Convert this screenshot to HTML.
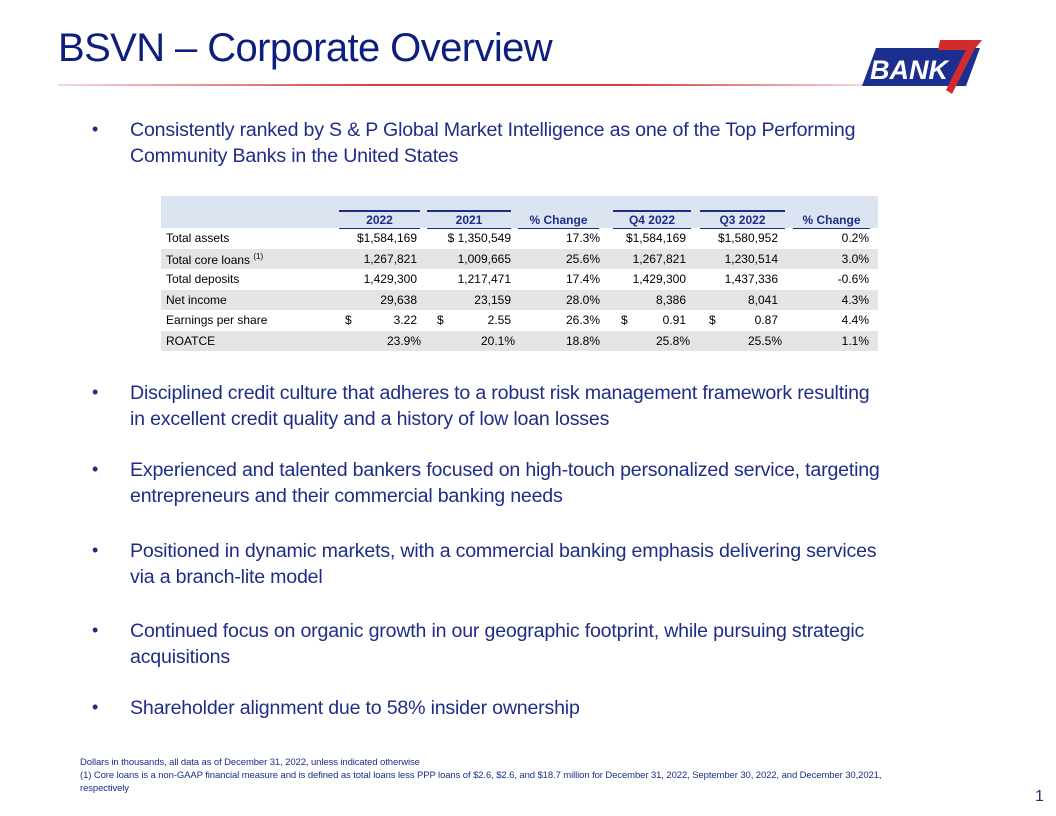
<!DOCTYPE html>
<html><head><meta charset="utf-8">
<style>
body{margin:0;width:1056px;height:816px;background:#fff;position:relative;overflow:hidden;font-family:"Liberation Sans",sans-serif;}
.abs{position:absolute;}
.title{left:58px;top:26px;font-size:40px;color:#0d1f7c;letter-spacing:-0.6px;white-space:nowrap;}
.rule{left:58px;top:84px;width:810px;height:2px;background:linear-gradient(90deg,rgba(220,60,60,0.2),#d04040 40%,#d04040 70%,rgba(220,60,60,0.2));}
.bul{left:92px;font-size:18px;color:#1f2d86;}
.bt{left:130px;font-size:19.6px;line-height:26px;color:#1f2d86;white-space:nowrap;letter-spacing:-0.2px;}
.hdr{left:161px;top:196px;width:717px;height:32px;background:#dce3f1;}
.row{left:161px;width:717px;height:20px;}
.gray{background:#e4e4e4;}
.cell{position:absolute;font-size:12px;color:#000;white-space:nowrap;}
.r{text-align:right;}
.hcell{position:absolute;top:210px;font-size:12px;font-weight:bold;color:#1f2d86;text-align:center;border-top:2px solid #1f2d86;height:16px;line-height:16px;border-bottom:1px solid #1f2d86}
.foot{left:80px;font-size:9.5px;color:#1f2d86;white-space:nowrap;letter-spacing:-0.1px;}
</style></head><body>
<div class="abs title">BSVN – Corporate Overview</div>
<div class="abs rule"></div>
<svg class="abs" style="left:862px;top:38px" width="124" height="58">
<polygon points="14,10 118,10 104,48 0,48" fill="#1c2f8f"/>
<polygon points="78,2 120,2 112,12 90,56 84,52 104,12 76,12" fill="#d22b2b"/>
<text x="8" y="41" font-family="Liberation Sans" font-weight="bold" font-style="italic" font-size="27" fill="#fff">BANK</text>
</svg>
<div class="abs bul" style="top:119px">•</div>
<div class="abs bt" style="top:117px">Consistently ranked by S &amp; P Global Market Intelligence as one of the Top Performing<br>Community Banks in the United States</div>

<div class="abs hdr"></div>
<div class="hcell" style="left:339px;width:81px">2022</div>
<div class="hcell" style="left:427px;width:84px">2021</div>
<div class="hcell" style="left:518px;width:81px;border-top-color:transparent">% Change</div>
<div class="hcell" style="left:613px;width:78px">Q4 2022</div>
<div class="hcell" style="left:700px;width:85px">Q3 2022</div>
<div class="hcell" style="left:793px;width:77px;border-top-color:transparent">% Change</div>

<div id="rows"></div>
<script>
const rows=[
["Total assets","$1,584,169","$ 1,350,549","17.3%","$1,584,169","$1,580,952","0.2%",false],
["Total core loans","1,267,821","1,009,665","25.6%","1,267,821","1,230,514","3.0%",true],
["Total deposits","1,429,300","1,217,471","17.4%","1,429,300","1,437,336","-0.6%",false],
["Net income","29,638","23,159","28.0%","8,386","8,041","4.3%",true],
["Earnings per share","3.22","2.55","26.3%","0.91","0.87","4.4%",false],
["ROATCE","23.9%","20.1%","18.8%","25.8%","25.5%","1.1%",true]];
const rights=[417,511,600,686,778,869];
const c=document.getElementById('rows');
rows.forEach((r,i)=>{
  const top=228+i*20.5;
  const bg=document.createElement('div');
  bg.className='abs row'+(r[7]?' gray':'');
  bg.style.top=top+'px';
  
  
  c.appendChild(bg);
  const lab=document.createElement('div');
  lab.className='cell';lab.style.left='166px';lab.style.top=(top+3)+'px';
  lab.innerHTML=r[0]+(i==1?' <sup style="font-size:8px">(1)</sup>':'');
  
  
  c.appendChild(lab);
  for(let j=1;j<=6;j++){
    const d=document.createElement('div');
    d.className='cell r';
    let rr=rights[j-1]; if(i==5&&j!=3&&j!=6) rr+=4;
    d.style.left=(rr-100)+'px';d.style.width='100px';d.style.top=(top+3)+'px';
    d.textContent=r[j];
    
    
    c.appendChild(d);
    if(i==4&&(j==1||j==2||j==4||j==5)){
      const s=document.createElement('div');
      s.className='cell';s.style.left=([345,437,0,621,709][j-1])+'px';s.style.top=(top+3)+'px';
      s.textContent='$';
      
      
      c.appendChild(s);
    }
  }
});
</script>

<div class="abs bul" style="top:382px">•</div>
<div class="abs bt" style="top:380px">Disciplined credit culture that adheres to a robust risk management framework resulting<br>in excellent credit quality and a history of low loan losses</div>
<div class="abs bul" style="top:459px">•</div>
<div class="abs bt" style="top:457px">Experienced and talented bankers focused on high-touch personalized service, targeting<br>entrepreneurs and their commercial banking needs</div>
<div class="abs bul" style="top:540px">•</div>
<div class="abs bt" style="top:538px">Positioned in dynamic markets, with a commercial banking emphasis delivering services<br>via a branch-lite model</div>
<div class="abs bul" style="top:620px">•</div>
<div class="abs bt" style="top:618px">Continued focus on organic growth in our geographic footprint, while pursuing strategic<br>acquisitions</div>
<div class="abs bul" style="top:697px">•</div>
<div class="abs bt" style="top:695px">Shareholder alignment due to 58% insider ownership</div>

<div class="abs foot" style="top:757px">Dollars in thousands, all data as of December 31, 2022, unless indicated otherwise</div>
<div class="abs foot" style="top:770px">(1) Core loans is a non-GAAP financial measure and is defined as total loans less PPP loans of $2.6, $2.6, and $18.7 million for December 31, 2022, September 30, 2022, and December 30,2021,</div>
<div class="abs foot" style="top:783px">respectively</div>
<div class="abs" style="left:1035px;top:788px;font-size:16px;color:#1f2d86">1</div>
</body></html>
